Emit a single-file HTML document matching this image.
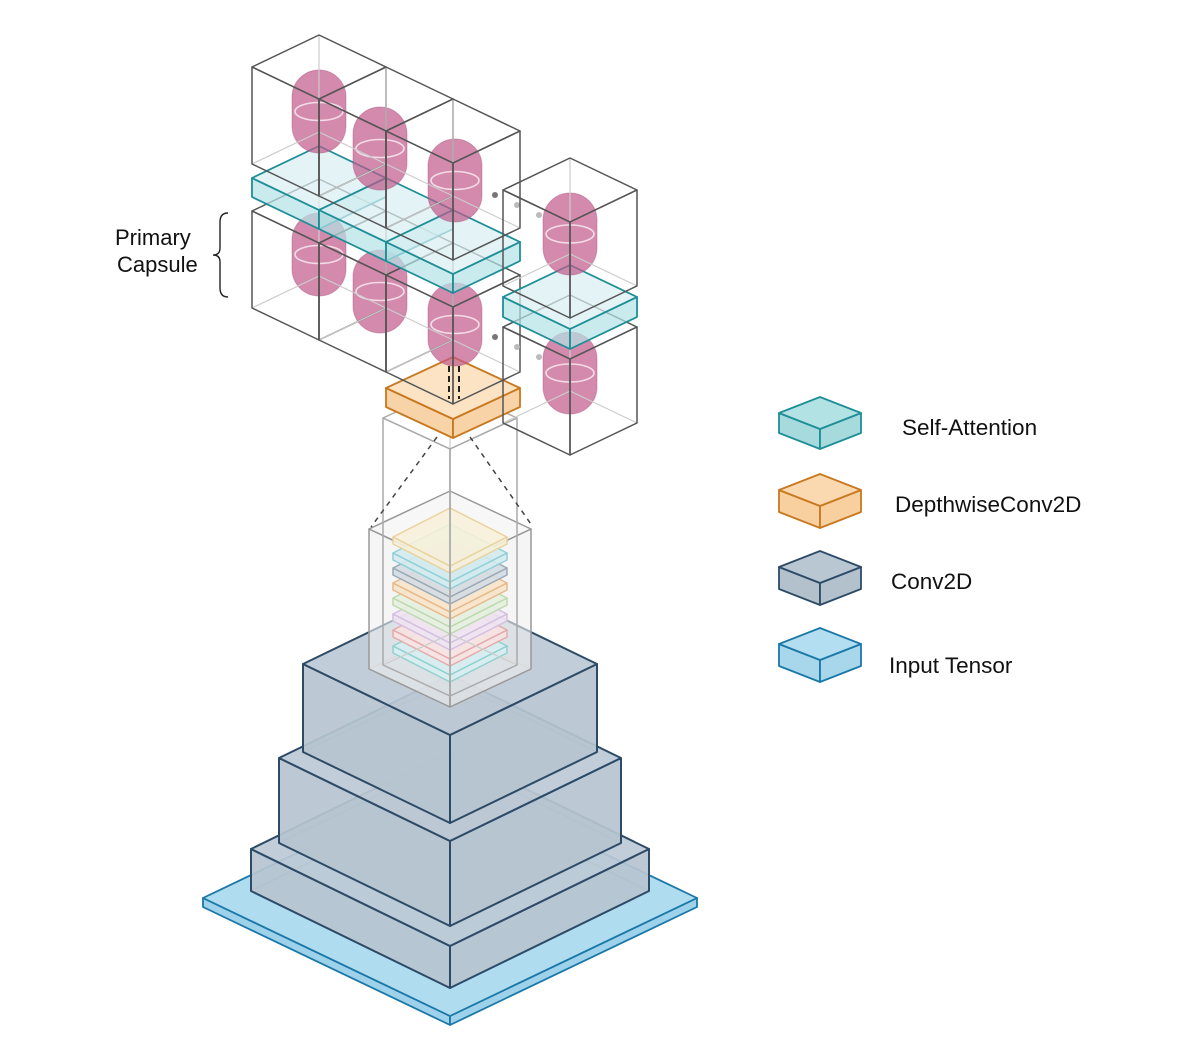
<!DOCTYPE html>
<html><head><meta charset="utf-8"><style>
html,body{margin:0;padding:0;background:#fff;}
svg{display:block;}
text{font-family:"Liberation Sans",Arial,sans-serif;fill:#111;}
</style></head><body>
<svg id="s" width="1182" height="1044" viewBox="0 0 1182 1044" xmlns="http://www.w3.org/2000/svg">
<g id="g"></g>
<text x="115" y="245" font-size="22">Primary</text>
<text x="117" y="272" font-size="22">Capsule</text>
<path d="M228,213 Q220,213 220,222 L220,248 Q220,255 213,255 Q220,255 220,262 L220,288 Q220,297 228,297" fill="none" stroke="#222" stroke-width="1.4"/>
<text x="902" y="435" font-size="22.5">Self-Attention</text>
<text x="895" y="512" font-size="22.5">DepthwiseConv2D</text>
<text x="891" y="589" font-size="22.5">Conv2D</text>
<text x="889" y="673" font-size="22.5">Input Tensor</text>
</svg>
<script>
var g=document.getElementById('g'),NS='http://www.w3.org/2000/svg';
function el(t,a){var e=document.createElementNS(NS,t);for(var k in a)e.setAttribute(k,a[k]);g.appendChild(e);return e;}
function P(p){return p.map(function(q){return q[0]+','+q[1]}).join(' ');}
function box(cx,cy,a,b,h,o){
 var L=[cx-a,cy],F=[cx,cy+b],R=[cx+a,cy],B=[cx,cy-b];
 var Lb=[cx-a,cy+h],Fb=[cx,cy+b+h],Rb=[cx+a,cy+h],Bb=[cx,cy-b+h];
 var sw=o.sw||1.5;
 if(o.hid){el('polyline',{points:P([Lb,Bb,Rb]),fill:'none',stroke:o.hid,'stroke-width':sw*0.8});el('line',{x1:B[0],y1:B[1],x2:Bb[0],y2:Bb[1],stroke:o.hid,'stroke-width':sw*0.8});}
 var op=o.op==null?1:o.op;
 el('polygon',{points:P([L,F,Fb,Lb]),fill:o.side||'none','fill-opacity':op,stroke:o.stroke,'stroke-width':sw,'stroke-linejoin':'round'});
 el('polygon',{points:P([F,R,Rb,Fb]),fill:o.side||'none','fill-opacity':op,stroke:o.stroke,'stroke-width':sw,'stroke-linejoin':'round'});
 el('polygon',{points:P([L,F,R,B]),fill:o.top||'none','fill-opacity':op,stroke:o.stroke,'stroke-width':sw,'stroke-linejoin':'round'});
}
function cyl(x,y,w,hh){
 el('rect',{x:x,y:y,width:w,height:hh,rx:w/2,ry:w/2,fill:'#c0588a','fill-opacity':0.7,stroke:'#a84a78','stroke-opacity':0.4});
 el('ellipse',{cx:x+w/2,cy:y+hh/2,rx:w/2-3,ry:9,fill:'none',stroke:'#f3dbe6','stroke-width':1.6});
}
var conv={top:'#bcc9d5',side:'#b6c4d0',stroke:'#2d4b66',op:0.92,sw:2,hid:'#8fa3b5'};
box(450,898,247,118,9,{top:'#b0dcef',side:'#9ed2ea',stroke:'#1a78a8',sw:1.8});
box(450,849,199,97,42,conv);
box(450,758,171,83,85,conv);
box(450,664,147,71,88,conv);
box(450,529,81,38,140,{top:'#f2f2f2',side:'#efefef',stroke:'#999',op:0.6,sw:1.5,hid:'#bbb'});
var lc=[['#f6efd9','#e8d39c'],['#d3ebef','#8fd0d6'],['#d4dce3','#9aa9b6'],['#f8e4cb','#e6b98a'],['#e5f0df','#bcdaae'],['#eee4f2','#d4bfe1'],['#f9e2e2','#e4abaa'],['#d6eeef','#91d0d0']];
var ly=[537,553,568,583,598,614,630,646];
for(var i=lc.length-1;i>=0;i--)box(450,ly[i],57,29,7,{top:lc[i][0],side:lc[i][0],stroke:lc[i][1],sw:1.5,op:0.9});
box(450,418,67,31,247,{stroke:'#aaa',sw:1.5,hid:'#ccc'});
el('line',{x1:437,y1:437,x2:371,y2:527,stroke:'#444','stroke-width':1.5,'stroke-dasharray':'5,5'});
el('line',{x1:470,y1:437,x2:533,y2:527,stroke:'#444','stroke-width':1.5,'stroke-dasharray':'5,5'});
box(453,388,67,31,19,{top:'#fbe3c4',side:'#f8d3a7',stroke:'#c8781e',sw:1.8});
el('line',{x1:449,y1:366,x2:449,y2:399,stroke:'#222','stroke-width':2,'stroke-dasharray':'6,4'});
el('line',{x1:459,y1:366,x2:459,y2:399,stroke:'#222','stroke-width':2,'stroke-dasharray':'6,4'});
var wire={stroke:'#555',sw:1.5,hid:'#ccc'};
var teal={top:'#d8f0f2',side:'#b4e2e5',stroke:'#1e8f97',sw:1.8,op:0.7};
var lcy=[[292,213],[353,250],[428,283]];
for(var i=0;i<3;i++)cyl(lcy[i][0],lcy[i][1],54,83);
for(var i=0;i<3;i++)box(319+67*i,211+32*i,67,32,97,wire);
[[495,195,'#777'],[517,205,'#bbb'],[539,215,'#bbb'],[495,337,'#777'],[517,347,'#bbb'],[539,357,'#bbb']].forEach(function(d){el('circle',{cx:d[0],cy:d[1],r:3,fill:d[2]});});
for(var i=0;i<3;i++)box(319+67*i,178+32*i,67,32,19,teal);
var ucy=[[292,70],[353,107],[428,139]];
for(var i=0;i<3;i++)cyl(ucy[i][0],ucy[i][1],54,83);
for(var i=0;i<3;i++)box(319+67*i,67+32*i,67,32,97,wire);
cyl(543,332,54,82);
box(570,327,67,32,96,wire);
box(570,297,67,32,20,teal);
cyl(543,193,54,82);
box(570,190,67,32,96,wire);
box(820,413,41,16,20,{top:'#b2e2e4',side:'#a6dadd',stroke:'#1e8f97',sw:1.8});
box(820,490,41,16,22,{top:'#fbd9b0',side:'#f8cf9f',stroke:'#c8781e',sw:1.8});
box(820,567,41,16,22,{top:'#b9c7d3',side:'#b3c1cd',stroke:'#2d4b66',sw:1.8});
box(820,644,41,16,22,{top:'#b3ddf0',side:'#a8d7ec',stroke:'#1a78a8',sw:1.8});
</script>
</body></html>
